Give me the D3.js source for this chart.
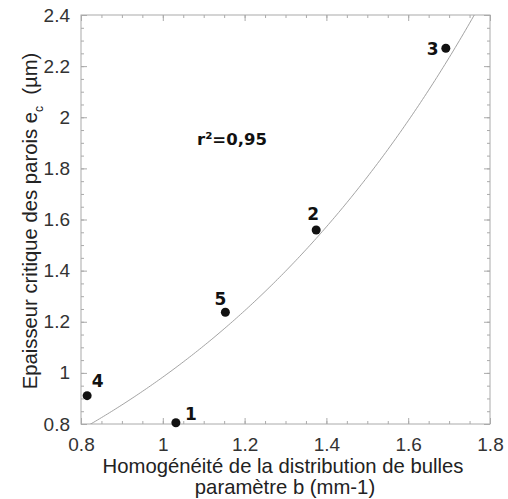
<!DOCTYPE html>
<html>
<head>
<meta charset="utf-8">
<script src="https://cdn.jsdelivr.net/npm/d3@7"></script>
<style>
  html, body { margin: 0; padding: 0; background: #fff; }
  svg { display: block; }
  .tick text { font-family: "Liberation Sans", Arial, sans-serif; font-size: 19px; fill: #333; }
  .axis path, .axis line { stroke: #aaa; }
  .title { font-family: "Liberation Sans", Arial, sans-serif; font-size: 20.3px; fill: #222; }
  .ptlabel { font-family: "DejaVu Sans", Verdana, sans-serif; font-weight: bold; font-size: 17px; fill: #111; }
</style>
</head>
<body>
<svg id="chart" width="508" height="499"></svg>
<script>
// Samples: bubble distribution homogeneity b (mm-1) vs critical wall thickness ec (µm)
const sampleIds = ["1", "2", "3", "4", "5"];
const bValues   = [1.032, 1.375, 1.692, 0.815, 1.153];
const ecValues  = [0.805, 1.559, 2.270, 0.911, 1.237];
const labelOffsets = [[9, -3], [-9, -10], [-19, 7], [4.5, -9], [-11, -7]];

const xTicks = [0.8, 1, 1.2, 1.4, 1.6, 1.8];
const yTicks = [0.8, 1, 1.2, 1.4, 1.6, 1.8, 2, 2.2, 2.4];
const fitLabel = "r\u00b2=0,95";

const width = 508, height = 499;
const margin = { top: 15, right: 18, bottom: 75, left: 81 };
const iw = width - margin.left - margin.right;
const ih = height - margin.top - margin.bottom;

const svg = d3.select("#chart");
const g = svg.append("g").attr("transform", `translate(${margin.left},${margin.top})`);

const x = d3.scaleLinear().domain([0.8, 1.8]).range([0, iw]);
const y = d3.scaleLinear().domain([0.8, 2.4]).range([ih, 0]);

// Exponential least-squares fit  ec = a * exp(k * b)
const lnY = ecValues.map(Math.log);
const mx = d3.mean(bValues), my = d3.mean(lnY);
const k = d3.sum(bValues, (v, i) => (v - mx) * (lnY[i] - my)) / d3.sum(bValues, v => (v - mx) ** 2);
const a = Math.exp(my - k * mx);

// Frame
g.append("rect").attr("width", iw).attr("height", ih)
  .attr("fill", "none").attr("stroke", "#aaa").attr("stroke-width", 1);

// Minor ticks every 0.05
const xMinor = d3.range(0.8, 1.8001, 0.05);
const yMinor = d3.range(0.8, 2.4001, 0.05);
const noLabel = () => "";
g.append("g").attr("class", "axis").attr("transform", `translate(0,${ih})`)
  .call(d3.axisBottom(x).tickValues(xMinor).tickSize(-3).tickFormat(noLabel));
g.append("g").attr("class", "axis")
  .call(d3.axisTop(x).tickValues(xMinor).tickSize(-3).tickFormat(noLabel));
g.append("g").attr("class", "axis")
  .call(d3.axisLeft(y).tickValues(yMinor).tickSize(-3).tickFormat(noLabel));
g.append("g").attr("class", "axis").attr("transform", `translate(${iw},0)`)
  .call(d3.axisRight(y).tickValues(yMinor).tickSize(-3).tickFormat(noLabel));

// Major ticks with labels
const fmt = d3.format("~g");
g.append("g").attr("class", "axis").attr("transform", `translate(0,${ih})`)
  .call(d3.axisBottom(x).tickValues(xTicks).tickSize(-6).tickPadding(14).tickFormat(fmt));
g.append("g").attr("class", "axis")
  .call(d3.axisTop(x).tickValues(xTicks).tickSize(-6).tickFormat(noLabel));
g.append("g").attr("class", "axis")
  .call(d3.axisLeft(y).tickValues(yTicks).tickSize(-6).tickPadding(11).tickFormat(fmt));
g.append("g").attr("class", "axis").attr("transform", `translate(${iw},0)`)
  .call(d3.axisRight(y).tickValues(yTicks).tickSize(-6).tickFormat(noLabel));
g.selectAll(".axis .domain").remove();

// Fit curve, clipped to the plot area
svg.append("defs").append("clipPath").attr("id", "plotClip")
  .append("rect").attr("width", iw).attr("height", ih);
const curveX = d3.range(0.8, 1.8001, 0.005);
g.append("path")
  .attr("clip-path", "url(#plotClip)")
  .attr("d", d3.line().x(v => x(v)).y(v => y(a * Math.exp(k * v)))(curveX))
  .attr("fill", "none").attr("stroke", "#999").attr("stroke-width", 0.9);

// Points
g.selectAll("circle.pt").data(bValues).join("circle")
  .attr("class", "pt")
  .attr("cx", d => x(d)).attr("cy", (d, i) => y(ecValues[i]))
  .attr("r", 4.5).attr("fill", "#111");

g.selectAll("text.ptlabel").data(sampleIds).join("text")
  .attr("class", "ptlabel")
  .attr("x", (d, i) => x(bValues[i]) + labelOffsets[i][0])
  .attr("y", (d, i) => y(ecValues[i]) + labelOffsets[i][1])
  .text(d => d);

g.append("text").attr("class", "ptlabel")
  .attr("x", 116).attr("y", 130).style("font-size", "16.5px")
  .text(fitLabel);

// Axis titles
svg.append("text").attr("class", "title")
  .attr("x", 283).attr("y", 473).attr("text-anchor", "middle")
  .text("Homogénéité de la distribution de bulles");
svg.append("text").attr("class", "title")
  .attr("x", 285).attr("y", 494).attr("text-anchor", "middle")
  .text("paramètre b (mm-1)");

const yt = svg.append("text").attr("class", "title")
  .attr("transform", "translate(37,221) rotate(-90)")
  .attr("text-anchor", "middle");
yt.append("tspan").text("Epaisseur critique des parois e");
yt.append("tspan").attr("dy", 6).style("font-size", "12px").text("c");
yt.append("tspan").attr("dy", -6).text("\u00a0 (µm)");
</script>
</body>
</html>
